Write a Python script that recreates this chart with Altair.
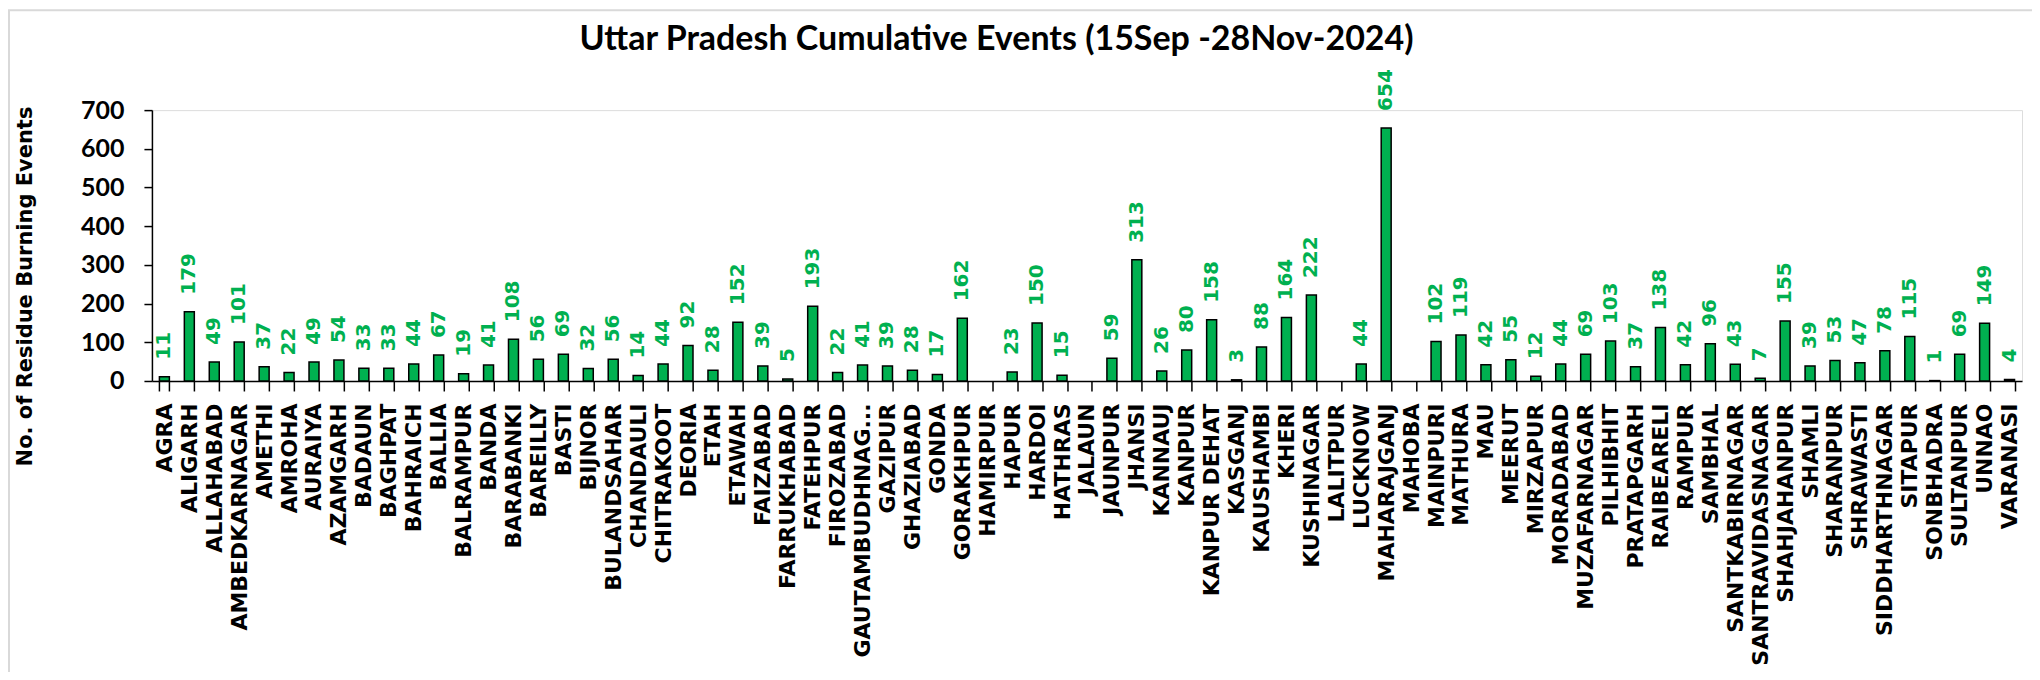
import altair as alt
import pandas as pd

districts = [
    "AGRA", "ALIGARH", "ALLAHABAD", "AMBEDKARNAGAR", "AMETHI", "AMROHA", "AURAIYA",
    "AZAMGARH", "BADAUN", "BAGHPAT", "BAHRAICH", "BALLIA", "BALRAMPUR", "BANDA",
    "BARABANKI", "BAREILLY", "BASTI", "BIJNOR", "BULANDSAHAR", "CHANDAULI",
    "CHITRAKOOT", "DEORIA", "ETAH", "ETAWAH", "FAIZABAD", "FARRUKHABAD", "FATEHPUR",
    "FIROZABAD", "GAUTAMBUDHNAG...", "GAZIPUR", "GHAZIABAD", "GONDA", "GORAKHPUR",
    "HAMIRPUR", "HAPUR", "HARDOI", "HATHRAS", "JALAUN", "JAUNPUR", "JHANSI",
    "KANNAUJ", "KANPUR", "KANPUR DEHAT", "KASGANJ", "KAUSHAMBI", "KHERI",
    "KUSHINAGAR", "LALITPUR", "LUCKNOW", "MAHARAJGANJ", "MAHOBA", "MAINPURI",
    "MATHURA", "MAU", "MEERUT", "MIRZAPUR", "MORADABAD", "MUZAFARNAGAR",
    "PILHIBHIT", "PRATAPGARH", "RAIBEARELI", "RAMPUR", "SAMBHAL", "SANTKABIRNAGAR",
    "SANTRAVIDASNAGAR", "SHAHJAHANPUR", "SHAMLI", "SHARANPUR", "SHRAWASTI",
    "SIDDHARTHNAGAR", "SITAPUR", "SONBHADRA", "SULTANPUR", "UNNAO", "VARANASI",
]

events = [
    11, 179, 49, 101, 37, 22, 49,
    54, 33, 33, 44, 67, 19, 41,
    108, 56, 69, 32, 56, 14,
    44, 92, 28, 152, 39, 5, 193,
    22, 41, 39, 28, 17, 162,
    None, 23, 150, 15, None, 59, 313,
    26, 80, 158, 3, 88, 164,
    222, None, 44, 654, None, 102,
    119, 42, 55, 12, 44, 69,
    103, 37, 138, 42, 96, 43,
    7, 155, 39, 53, 47,
    78, 115, 1, 69, 149, 4,
]

y_ticks = [0, 100, 200, 300, 400, 500, 600, 700]

title_text = "Uttar Pradesh Cumulative Events (15Sep -28Nov-2024)"
y_title = "No. of Residue Burning Events"

df = pd.DataFrame({"District": districts, "Events": events})

GREEN = "#00B050"

x_enc = alt.X(
    "District:N",
    sort=districts,
    scale=alt.Scale(domain=districts, paddingInner=0.6, paddingOuter=0.3),
    axis=alt.Axis(
        title=None,
        labelAngle=270,
        labelFont="DejaVu Sans",
        labelFontWeight="bold",
        labelFontSize=22,
        labelColor="black",
        labelPadding=12,
        labelLimit=500,
        labelOverlap=False,
        tickSize=10,
        tickBand="extent",
        tickColor="black",
        tickWidth=1.5,
        domainColor="black",
        domainWidth=1.5,
    ),
)

y_enc = alt.Y(
    "Events:Q",
    scale=alt.Scale(domain=[0, 700], nice=False),
    axis=alt.Axis(
        values=y_ticks,
        grid=False,
        title=y_title,
        titleFont="DejaVu Sans",
        titleFontWeight="bold",
        titleFontSize=21,
        titleColor="black",
        titleAngle=270,
        titleAlign="center",
        titleBaseline="middle",
        titleX=-126,
        titleY=176,
        labelFont="Lato",
        labelFontWeight="bold",
        labelFontSize=25,
        labelColor="black",
        labelPadding=20,
        tickSize=8,
        tickColor="black",
        tickWidth=1.5,
        domainColor="black",
        domainWidth=1.5,
    ),
)

bars = alt.Chart(df).mark_bar(fill=GREEN, stroke="black", strokeWidth=1.5).encode(
    x=x_enc, y=y_enc
)

labels = (
    alt.Chart(df)
    .transform_filter("datum.Events != null")
    .mark_text(
        angle=270,
        align="left",
        baseline="middle",
        dx=17,
        font="DejaVu Sans",
        fontWeight="bold",
        fontSize=20,
        color=GREEN,
    )
    .encode(x=x_enc, y=y_enc, text=alt.Text("Events:Q"))
)

single = alt.Data(values=[{"a": 1}])

border = (
    alt.Chart(single)
    .mark_rect(fillOpacity=0, stroke="#D9D9D9", strokeWidth=2)
    .encode(
        x=alt.value(-143), x2=alt.value(1900), y=alt.value(-100), y2=alt.value(600)
    )
)

title = (
    alt.Chart(single)
    .mark_text(
        font="Lato",
        fontSize=34,
        fontWeight="bold",
        color="black",
        align="center",
        baseline="alphabetic",
    )
    .encode(x=alt.value(845), y=alt.value(-60), text=alt.value(title_text))
)

chart = (
    alt.layer(border, title, bars, labels)
    .properties(
        width=1871,
        height=271,
        padding={"left": 144, "top": 102, "right": 10, "bottom": 291},
        autosize=alt.AutoSizeParams(type="none"),
    )
    .configure_view(stroke=None)
    .configure(background="white")
)

chart.save("out.html", embed_options={"renderer": "svg", "actions": False})
